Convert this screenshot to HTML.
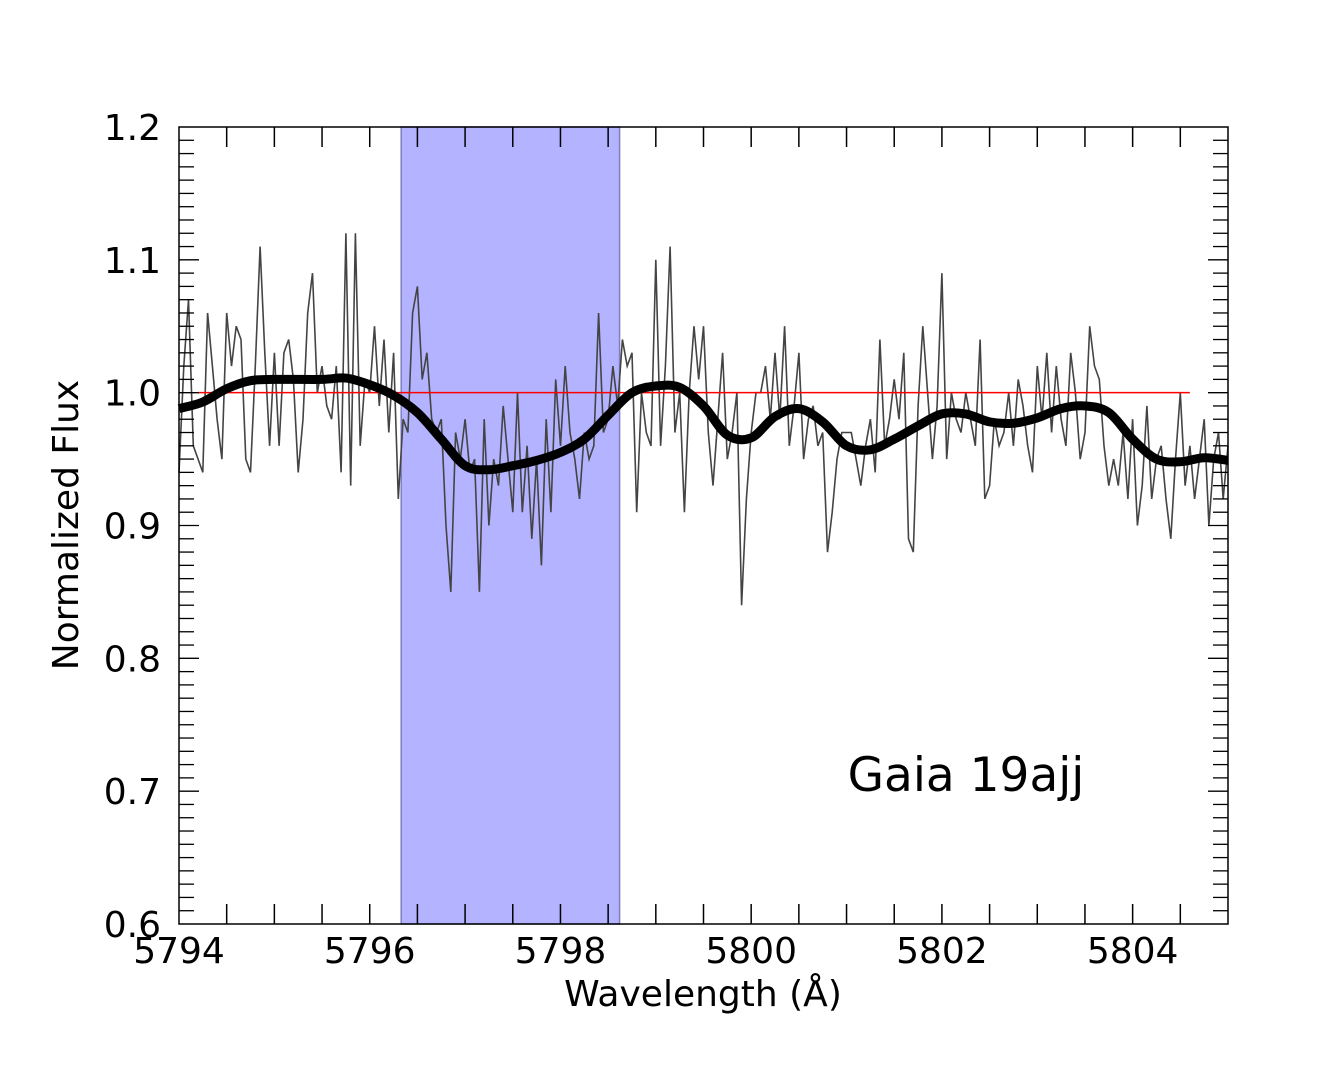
<!DOCTYPE html>
<html><head><meta charset="utf-8"><style>body{margin:0;background:#fff}svg{display:block}text{font-family:"DejaVu Sans","Liberation Sans",sans-serif}</style></head>
<body>
<svg id="chart" width="1333" height="1066">
<g id="plot"></g>
</svg>
<script>
const xTicks=[5794,5796,5798,5800,5802,5804];
const yTicks=[0.6,0.7,0.8,0.9,1.0,1.1,1.2];
const bandRange=[5796.33,5798.62];
const refLevel=[1.0];
const refRange=[5794.2,5804.6];
const smoothX=[5794,5794.25,5794.5,5794.75,5795,5795.5,5795.75,5796,5796.25,5796.5,5796.75,5797,5797.25,5797.5,5797.75,5798,5798.25,5798.5,5798.75,5799,5799.25,5799.5,5799.75,5800,5800.25,5800.5,5800.75,5801,5801.25,5801.5,5801.75,5802,5802.25,5802.5,5802.75,5803,5803.25,5803.5,5803.75,5804,5804.25,5804.5,5804.75,5805];
const smoothY=[0.988,0.993,1.003,1.009,1.010,1.010,1.011,1.006,0.998,0.985,0.965,0.945,0.942,0.945,0.949,0.955,0.965,0.983,1.000,1.005,1.004,0.990,0.968,0.966,0.982,0.988,0.978,0.960,0.957,0.965,0.975,0.984,0.984,0.978,0.977,0.981,0.988,0.990,0.985,0.965,0.950,0.948,0.951,0.949];
const noiseStart=[5794];
const noiseStep=[0.05];
const noiseY=[0.94,1.02,1.07,0.96,0.95,0.94,1.06,1.02,0.98,0.95,1.06,1.02,1.05,1.04,0.95,0.94,1.02,1.11,1.03,0.96,
1.03,0.96,1.03,1.04,1.01,0.94,0.98,1.06,1.09,1.00,1.02,0.99,0.98,1.02,0.94,1.12,0.93,1.12,0.96,1.01,
1.00,1.05,0.99,1.04,0.97,1.03,0.92,0.98,0.97,1.06,1.08,1.01,1.03,0.98,0.97,0.98,0.90,0.85,0.97,0.95,
0.98,0.94,0.95,0.85,0.98,0.90,0.95,0.93,0.99,0.95,0.91,1.00,0.91,0.96,0.89,0.95,0.87,0.98,0.91,1.01,
0.96,1.02,0.97,0.95,0.92,0.97,0.95,0.96,1.06,0.97,0.98,1.02,0.99,1.04,1.02,1.03,0.91,1.00,0.97,0.96,
1.10,0.96,1.02,1.11,0.97,1.00,0.91,1.00,1.05,1.01,1.05,0.97,0.93,0.98,1.03,0.95,0.97,1.00,0.84,0.92,
0.97,1.00,1.00,1.02,0.98,1.03,0.98,1.05,0.96,0.99,1.03,0.95,0.98,0.99,0.96,0.97,0.88,0.91,0.95,0.97,
0.97,0.97,0.95,0.93,0.96,0.98,0.94,1.04,0.96,0.98,1.01,0.98,1.03,0.89,0.88,0.99,1.05,1.00,0.95,0.99,
1.09,0.95,1.00,0.98,0.97,1.00,0.98,0.96,1.04,0.92,0.93,0.98,0.96,0.97,1.00,0.96,1.01,0.99,0.96,0.94,
1.02,0.98,1.03,0.97,1.02,0.98,0.96,1.03,1.00,0.95,0.97,1.05,1.02,1.01,0.96,0.93,0.95,0.93,0.97,0.92,
0.98,0.90,0.93,0.99,0.92,0.95,0.96,0.92,0.89,0.95,1.00,0.93,0.96,0.92,0.95,0.98,0.90,0.95,0.97,0.92,0.96];
const label=["Gaia 19ajj"];

const L=179,R=1228,T=127,B=924,x0=5794,x1=5805,y0=0.6,y1=1.2;
const sx=v=>L+(v-x0)/(x1-x0)*(R-L);
const sy=v=>B-(v-y0)/(y1-y0)*(B-T);
const NS="http://www.w3.org/2000/svg";
const g=document.getElementById('plot');
function mk(tag,attrs,parent){const e=document.createElementNS(NS,tag);for(const k in attrs)e.setAttribute(k,attrs[k]);(parent||g).appendChild(e);return e;}

const band=mk('rect',{x:sx(bandRange[0]),y:T,width:sx(bandRange[1])-sx(bandRange[0]),height:B-T,fill:'#b3b3ff',stroke:'#7f7fbf','stroke-width':1.5});



let d='';
noiseY.forEach((v,i)=>{const xv=noiseStart[0]+i*noiseStep[0];d+=(i?'L':'M')+sx(xv).toFixed(1)+' '+sy(v).toFixed(1);});
const noise=mk('path',{d:d,fill:'none',stroke:'#444','stroke-width':1.6});



const ref=mk('line',{x1:sx(refRange[0]),x2:sx(refRange[1]),y1:sy(refLevel[0]),y2:sy(refLevel[0]),stroke:'#f00','stroke-width':1.5});



const pts=smoothX.map((xv,i)=>[sx(xv),sy(smoothY[i])]);
let sd='M'+pts[0][0]+' '+pts[0][1];
for(let i=0;i<pts.length-1;i++){const p0=pts[Math.max(0,i-1)],p1=pts[i],p2=pts[i+1],p3=pts[Math.min(pts.length-1,i+2)];
sd+=`C${p1[0]+(p2[0]-p0[0])/6} ${p1[1]+(p2[1]-p0[1])/6} ${p2[0]-(p3[0]-p1[0])/6} ${p2[1]-(p3[1]-p1[1])/6} ${p2[0]} ${p2[1]}`;}
const sm=mk('path',{d:sd,fill:'none',stroke:'#000','stroke-width':9,'stroke-linejoin':'round'});



const frame=mk('rect',{x:L,y:T,width:R-L,height:B-T,fill:'none',stroke:'#000','stroke-width':1.5});



for(let v=x0+0.5;v<x1;v+=0.5){const X=sx(v);
 const t1=mk('line',{x1:X,x2:X,y1:B,y2:B-20,stroke:'#000','stroke-width':1.5});
 
 
 const t2=mk('line',{x1:X,x2:X,y1:T,y2:T+20,stroke:'#000','stroke-width':1.5});
 
 }
for(let k=1;k<60;k++){const v=y0+k*0.01;const Y=sy(v);const len=(k%10===0)?20:15;
 const a=mk('line',{x1:L,x2:L+len,y1:Y,y2:Y,stroke:'#000','stroke-width':1.3});
 
 
 const b=mk('line',{x1:R,x2:R-len,y1:Y,y2:Y,stroke:'#000','stroke-width':1.3});
 
 }
xTicks.forEach(v=>{const t=mk('text',{x:sx(v),y:963,'font-size':36,'text-anchor':'middle'});t.textContent=v;
 
 });
yTicks.forEach(v=>{const t=mk('text',{x:161,y:sy(v)+13,'font-size':36,'text-anchor':'end'});t.textContent=v.toFixed(1);
 
 });
const xl=mk('text',{x:703,y:1006,'font-size':36,'text-anchor':'middle'});xl.textContent='Wavelength (Å)';


const yl=mk('text',{x:0,y:0,'font-size':36,'text-anchor':'middle',transform:'translate(78,525) rotate(-90)'});yl.textContent='Normalized Flux';


const an=mk('text',{x:966,y:791,'font-size':47,'text-anchor':'middle'});an.textContent=label[0];


</script>
</body></html>
